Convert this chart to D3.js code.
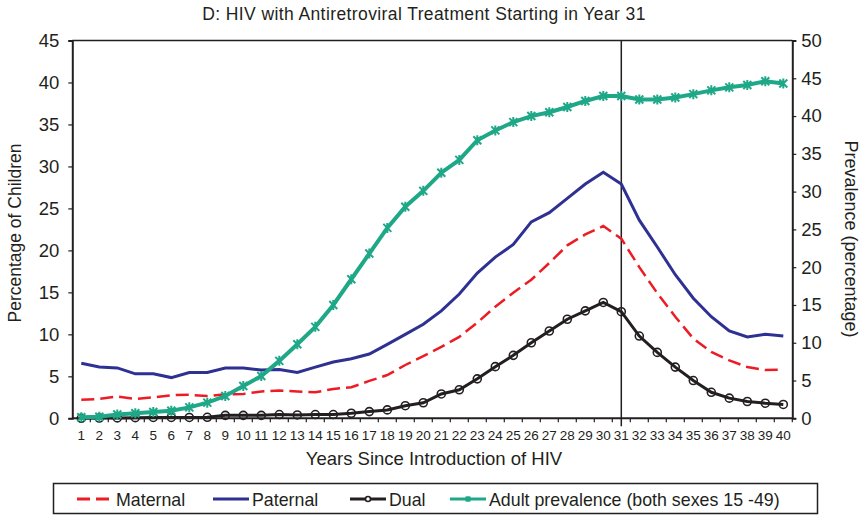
<!DOCTYPE html>
<html>
<head>
<meta charset="utf-8">
<script src="https://cdn.jsdelivr.net/npm/d3@7"></script>
<style>
    body { margin: 0; background: #ffffff; }
    svg { display: block; font-family: "Liberation Sans", Arial, sans-serif; }
</style>
</head>
<body>
<div class="graph-one"></div>
<script>
const years = ["1", "2", "3", "4", "5", "6", "7", "8", "9", "10", "11", "12", "13", "14", "15", "16", "17", "18", "19", "20",
    "21", "22", "23", "24", "25", "26", "27", "28", "29", "30", "31", "32", "33", "34", "35", "36", "37", "38", "39", "40"];

const maternal = [2.2, 2.3, 2.6, 2.3, 2.5, 2.75, 2.8, 2.65, 2.85, 2.9, 3.2, 3.3, 3.2, 3.1, 3.5, 3.7, 4.45, 5.15, 6.35, 7.4,
    8.5, 9.7, 11.4, 13.3, 14.95, 16.5, 18.5, 20.6, 21.9, 22.9, 21.4, 18.0, 14.9, 12.1, 9.5, 7.9, 6.9, 6.1, 5.75, 5.8];

const paternal = [6.55, 6.1, 6.0, 5.3, 5.3, 4.85, 5.45, 5.45, 6.0, 6.0, 5.75, 5.8, 5.45, 6.1, 6.7, 7.1, 7.65, 8.8, 10.0, 11.2,
    12.8, 14.8, 17.3, 19.2, 20.7, 23.4, 24.5, 26.2, 27.9, 29.3, 27.9, 23.6, 20.4, 17.1, 14.3, 12.1, 10.4, 9.7, 10.0, 9.8];

const dual = [0, 0.03, 0.05, 0.08, 0.1, 0.1, 0.1, 0.12, 0.35, 0.35, 0.35, 0.45, 0.4, 0.45, 0.45, 0.6, 0.8, 1.0, 1.5, 1.85,
    2.9, 3.4, 4.7, 6.15, 7.5, 9.0, 10.4, 11.8, 12.8, 13.8, 12.7, 9.8, 7.85, 6.1, 4.5, 3.1, 2.4, 2.0, 1.8, 1.65];

const adultPrevalence = [0.13, 0.2, 0.5, 0.66, 0.83, 1.0, 1.45, 2.07, 2.95, 4.27, 5.6, 7.6, 9.8, 12.1, 15.0, 18.4, 21.8, 25.2, 28.0, 30.1,
    32.5, 34.2, 36.8, 38.1, 39.2, 40.0, 40.5, 41.2, 42.0, 42.65, 42.65, 42.2, 42.2, 42.45, 42.9, 43.4, 43.8, 44.1, 44.6, 44.3];

const leftTicks = [0, 5, 10, 15, 20, 25, 30, 35, 40, 45];
const rightTicks = [0, 5, 10, 15, 20, 25, 30, 35, 40, 45, 50];
const treatmentYear = "31";

const configuration = {
    width: 865,
    height: 515,
    left: 72.3,
    right: 792.3,
    top: 40.5,
    bottom: 418.3,
    axisColor: "#231f20",
    textColor: "#231f20"
};

let scale_x = d3.scaleBand()
    .domain(years)
    .range([configuration.left, configuration.right]);

let scale_y = d3.scaleLinear()
    .domain([0, 45])
    .range([configuration.bottom, configuration.top]);

let scale_y2 = d3.scaleLinear()
    .domain([0, 50])
    .range([configuration.bottom, configuration.top]);

const cx = (d, i) => scale_x(years[i]) + scale_x.bandwidth() / 2;

let svg = d3.select(".graph-one")
    .append("svg")
    .attr("width", configuration.width)
    .attr("height", configuration.height);

// title
svg.append("text")
    .attr("x", 424)
    .attr("y", 20)
    .attr("text-anchor", "middle")
    .attr("font-size", 17.5)
    .attr("letter-spacing", 0.4)
    .attr("fill", configuration.textColor)
    .text("D: HIV with Antiretroviral Treatment Starting in Year 31");

// top border of plot
svg.append("line")
    .attr("x1", configuration.left)
    .attr("x2", configuration.right)
    .attr("y1", configuration.top)
    .attr("y2", configuration.top)
    .attr("stroke", configuration.axisColor)
    .attr("stroke-width", 1.5);

// left axis
let leftAxis = svg.append("g")
    .attr("transform", `translate(${configuration.left},0)`)
    .call(d3.axisLeft(scale_y).tickValues(leftTicks).tickSize(4).tickPadding(9));

// right axis
let rightAxis = svg.append("g")
    .attr("transform", `translate(${configuration.right},0)`)
    .call(d3.axisRight(scale_y2).tickValues(rightTicks).tickSize(4).tickPadding(5));

[leftAxis, rightAxis].forEach(axis => {
    axis.select(".domain").attr("stroke", configuration.axisColor).attr("stroke-width", 2);
    axis.selectAll(".tick line").attr("stroke", configuration.axisColor).attr("stroke-width", 1.2);
    axis.selectAll(".tick text")
        .attr("font-size", 18.5)
        .attr("fill", configuration.textColor)
        .attr("font-family", "Liberation Sans, Arial, sans-serif");
});

// bottom axis, ticks between categories
let bottomAxis = svg.append("g")
    .attr("transform", `translate(0,${configuration.bottom})`);

bottomAxis.append("line")
    .attr("x1", configuration.left)
    .attr("x2", configuration.right)
    .attr("stroke", configuration.axisColor)
    .attr("stroke-width", 2);

bottomAxis.selectAll(".x-tick")
    .data(years)
    .join("line")
    .attr("class", "x-tick")
    .attr("x1", d => scale_x(d) + scale_x.bandwidth())
    .attr("x2", d => scale_x(d) + scale_x.bandwidth())
    .attr("y1", 0)
    .attr("y2", 4)
    .attr("stroke", configuration.axisColor)
    .attr("stroke-width", 1.2);

bottomAxis.selectAll(".x-label")
    .data(years)
    .join("text")
    .attr("class", "x-label")
    .attr("x", d => scale_x(d) + scale_x.bandwidth() / 2)
    .attr("y", 22)
    .attr("text-anchor", "middle")
    .attr("font-size", 13.5)
    .attr("font-family", "Liberation Sans Narrow, Liberation Sans, Arial, sans-serif")
    .attr("fill", configuration.textColor)
    .text(d => d);

// axis titles
svg.append("text")
    .attr("x", 434)
    .attr("y", 465)
    .attr("text-anchor", "middle")
    .attr("font-size", 18.5)
    .attr("fill", configuration.textColor)
    .text("Years Since Introduction of HIV");

svg.append("text")
    .attr("transform", "translate(21,233) rotate(-90)")
    .attr("text-anchor", "middle")
    .attr("font-size", 17.5)
    .attr("fill", configuration.textColor)
    .text("Percentage of Children");

svg.append("text")
    .attr("transform", "translate(845,239) rotate(90)")
    .attr("text-anchor", "middle")
    .attr("font-size", 18)
    .attr("fill", configuration.textColor)
    .text("Prevalence (percentage)");

// treatment start line
svg.append("line")
    .attr("x1", scale_x(treatmentYear) + scale_x.bandwidth() / 2)
    .attr("x2", scale_x(treatmentYear) + scale_x.bandwidth() / 2)
    .attr("y1", configuration.top)
    .attr("y2", configuration.bottom + 8)
    .attr("stroke", configuration.axisColor)
    .attr("stroke-width", 1.5);

// series
const lineLeft = d3.line().x(cx).y(d => scale_y(d));
const lineRight = d3.line().x(cx).y(d => scale_y2(d));

svg.append("path")
    .datum(maternal)
    .attr("d", lineLeft)
    .attr("fill", "none")
    .attr("stroke", "#ed1c24")
    .attr("stroke-width", 2.5)
    .attr("stroke-dasharray", "13,6");

svg.append("path")
    .datum(paternal)
    .attr("d", lineLeft)
    .attr("fill", "none")
    .attr("stroke", "#2e3192")
    .attr("stroke-width", 3);

svg.append("path")
    .datum(dual)
    .attr("d", lineLeft)
    .attr("fill", "none")
    .attr("stroke", "#231f20")
    .attr("stroke-width", 3);

svg.append("g")
    .selectAll("circle")
    .data(dual)
    .join("circle")
    .attr("cx", cx)
    .attr("cy", d => scale_y(d))
    .attr("r", 4)
    .attr("fill", "none")
    .attr("stroke", "#231f20")
    .attr("stroke-width", 1.6);

svg.append("path")
    .datum(adultPrevalence)
    .attr("d", lineRight)
    .attr("fill", "none")
    .attr("stroke", "#1fa887")
    .attr("stroke-width", 4);

// star markers: an X plus a vertical bar
const starPath = "M-4,-4L4,4M-4,4L4,-4M0,-5L0,5";
svg.append("g")
    .selectAll("path")
    .data(adultPrevalence)
    .join("path")
    .attr("transform", (d, i) => `translate(${cx(d, i)},${scale_y2(d)})`)
    .attr("d", starPath)
    .attr("fill", "none")
    .attr("stroke", "#1fa887")
    .attr("stroke-width", 2);

// legend
let legend = svg.append("g").attr("class", "legend");

legend.append("rect")
    .attr("x", 53.5)
    .attr("y", 483.5)
    .attr("width", 764)
    .attr("height", 30)
    .attr("fill", "#ffffff")
    .attr("stroke", configuration.axisColor)
    .attr("stroke-width", 1.5);

const legendItems = [
    { label: "Maternal", x: 77, color: "#ed1c24", dash: "13,6", marker: null },
    { label: "Paternal", x: 213, color: "#2e3192", dash: null, marker: null },
    { label: "Dual", x: 350, color: "#231f20", dash: null, marker: "circle" },
    { label: "Adult prevalence (both sexes 15 -49)", x: 450, color: "#1fa887", dash: null, marker: "star" }
];

legendItems.forEach(item => {
    legend.append("line")
        .attr("x1", item.x)
        .attr("x2", item.x + 36)
        .attr("y1", 499)
        .attr("y2", 499)
        .attr("stroke", item.color)
        .attr("stroke-width", 3)
        .attr("stroke-dasharray", item.dash);

    if (item.marker === "circle") {
        legend.append("circle")
            .attr("cx", item.x + 18)
            .attr("cy", 499)
            .attr("r", 2.5)
            .attr("fill", "#ffffff")
            .attr("stroke", item.color)
            .attr("stroke-width", 1.6);
    }
    if (item.marker === "star") {
        legend.append("path")
            .attr("transform", `translate(${item.x + 18},499) scale(0.6)`)
            .attr("d", starPath)
            .attr("stroke", item.color)
            .attr("stroke-width", 2.5);
    }

    legend.append("text")
        .attr("x", item.x + 39)
        .attr("y", 506)
        .attr("font-size", 17.8)
        .attr("fill", configuration.textColor)
        .text(item.label);
});
</script>
</body>
</html>
